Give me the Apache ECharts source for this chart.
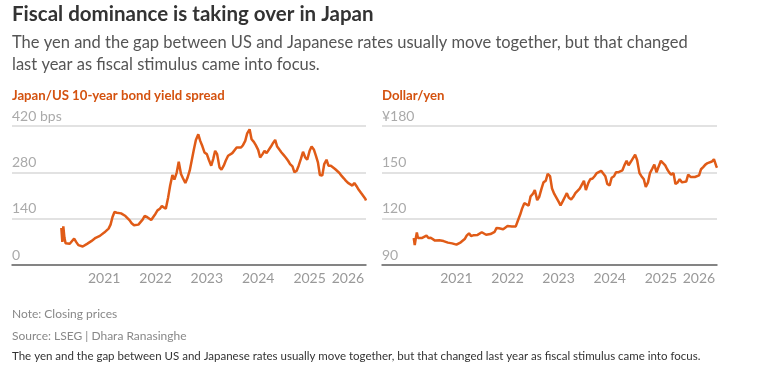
<!DOCTYPE html>
<html>
<head>
<meta charset="utf-8">
<script src="https://cdn.jsdelivr.net/npm/echarts@6/dist/echarts.min.js"></script>
<style>
html,body{margin:0;padding:0;background:#fff;}
#chart{width:761px;height:378px;}
</style>
</head>
<body>
<div id="chart"></div>
<script>
var dates = [
"2020-03-02","2020-03-09","2020-03-16","2020-03-24","2020-04-01","2020-04-15",
"2020-05-01","2020-05-15","2020-06-01","2020-06-15","2020-07-01","2020-07-15","2020-08-01","2020-08-15","2020-09-01","2020-09-15","2020-10-01","2020-10-15","2020-11-01","2020-11-15","2020-12-01","2020-12-15",
"2021-01-01","2021-01-15","2021-02-01","2021-02-15","2021-03-01","2021-03-15","2021-04-01","2021-04-15","2021-05-01","2021-05-15","2021-06-01","2021-06-15","2021-07-01","2021-07-15","2021-08-01","2021-08-15","2021-09-01","2021-09-15","2021-10-01","2021-10-15","2021-11-01","2021-11-15","2021-12-01","2021-12-15",
"2022-01-01","2022-01-15","2022-02-01","2022-02-15","2022-03-01","2022-03-15","2022-04-01","2022-04-15","2022-05-01","2022-05-15","2022-06-01","2022-06-15","2022-07-01","2022-07-15","2022-08-01","2022-08-15","2022-09-01","2022-09-15","2022-10-01","2022-10-15","2022-11-01","2022-11-15","2022-12-01","2022-12-15",
"2023-01-01","2023-01-15","2023-02-01","2023-02-15","2023-03-01","2023-03-15","2023-04-01","2023-04-15","2023-05-01","2023-05-15","2023-06-01","2023-06-15","2023-07-01","2023-07-15","2023-08-01","2023-08-15","2023-09-01","2023-09-15","2023-10-01","2023-10-15","2023-11-01","2023-11-15","2023-12-01","2023-12-15",
"2024-01-01","2024-01-15","2024-02-01","2024-02-15","2024-03-01","2024-03-15","2024-04-01","2024-04-15","2024-05-01","2024-05-15","2024-06-01","2024-06-15","2024-07-01","2024-07-15","2024-08-01","2024-08-15","2024-09-01","2024-09-15","2024-10-01","2024-10-15","2024-11-01","2024-11-15","2024-12-01","2024-12-15",
"2025-01-01","2025-01-15","2025-02-01","2025-02-15","2025-03-01","2025-03-15","2025-04-01","2025-04-15","2025-05-01","2025-05-15","2025-06-01","2025-06-15","2025-07-01","2025-07-15","2025-08-01","2025-08-15","2025-09-01","2025-09-15","2025-10-01","2025-10-15","2025-11-01","2025-11-15","2025-12-01","2025-12-15",
"2026-01-01","2026-01-15","2026-02-01","2026-02-06"
];

// Japan/US 10-year bond yield spread, bps
var spread = [
112,70,117,82,66,70,
64,66,80,70,60,55,56,62,64,66,72,76,82,84,88,90,
98,104,110,122,145,160,158,152,156,152,148,143,135,126,120,123,122,128,137,148,145,142,136,140,
155,165,170,178,172,170,205,240,272,258,280,312,275,262,248,262,285,315,350,378,395,375,358,340,
335,318,300,320,345,335,295,288,300,315,330,335,338,340,355,358,355,362,375,398,410,380,372,362,
348,325,335,345,338,342,358,368,378,358,348,340,332,325,315,305,298,280,285,300,322,342,325,318,
345,358,348,330,310,272,270,305,318,300,300,295,290,285,278,270,262,255,248,242,240,248,238,228,
218,212,200,195
];

// Dollar/yen, yen per dollar
var usdjpy = [
107.5,102.9,107,111,107.5,108,
107.5,107.2,109,107.5,107.7,107,105.8,106.5,106,105.5,105.5,105.3,104.5,104.5,104,103.5,
103.2,103.8,104.7,105.5,106.8,109,110.5,108.8,109.2,109.4,109.5,110,111.2,110.2,109.6,109.6,110,109.5,111.5,114,113.8,114.2,113.2,113.8,
115.2,114.3,115,115.5,115,118.5,122.5,126.5,130,129,128.5,134.5,136,138.5,132,134,139.5,143.5,144.5,149,147.5,139.5,136,135.5,
131,128.5,131.5,134,136.5,133.5,132.5,134,136.5,136.5,139.5,140.5,144.5,138.5,143,145.5,146,147.5,149.5,149.5,151,151.5,147.5,142.5,
141.5,146.5,147.5,150,150,149,151.3,154.5,157.5,154.5,157,157.5,161.5,158,149.5,147.5,145.5,140.5,143.5,149.5,152.5,155,150,153.5,
157.5,157,154.5,152,150,148.5,149.5,142.5,143.5,145.5,143.5,144,144,148.5,147,147.2,147,147.5,148,152,153.5,155,156,155.5,
157,158.5,154,153
];

var yearTicks = ["2021-01-01","2022-01-01","2023-01-01","2024-01-01","2025-01-01","2026-01-01"];
var spreadTicks = [0,140,280,420];
var yenTicks = [90,120,150,180];

var FONT = 'Lato';
var ORANGE_LINE = '#e05b17';
var ORANGE_TEXT = '#d4520f';

function ts(s){ return Date.parse(s + 'T00:00:00Z'); }
function pairs(vals){ return dates.map(function(d,i){ return [ts(d), vals[i]]; }); }

function xAxisCfg(gi, minDate, maxDate){
  return {
    type:'value', gridIndex:gi, min:ts(minDate), max:ts(maxDate),
    axisLine:{show:true, lineStyle:{color:'#666', width:1.5}},
    axisTick:{show:false},
    splitLine:{show:false},
    axisLabel:{
      customValues: yearTicks.map(ts),
      margin:6, color:'#999', fontSize:14, fontFamily:FONT, hideOverlap:false,
      formatter:function(v){
        var y = new Date(v).getUTCFullYear();
        return y === 2026 ? '{s|' + y + '}' : String(y);
      },
      rich:{ s:{ color:'#999', fontSize:14, fontFamily:FONT, padding:[0,26,0,0] } }
    }
  };
}

function yAxisCfg(gi, ticks, topFmt){
  return {
    type:'value', gridIndex:gi, min:ticks[0], max:ticks[ticks.length-1], interval:ticks[1]-ticks[0],
    axisLine:{show:false}, axisTick:{show:false},
    splitLine:{show:true, lineStyle:{color:'#d9d9d9', width:1.5}},
    axisLabel:{
      inside:true, margin:0, align:'left', verticalAlign:'bottom', padding:[0,0,3,0],
      color:'#aaa', fontSize:14, fontFamily:FONT,
      formatter:function(v){ return v === ticks[ticks.length-1] ? topFmt(v) : String(v); }
    }
  };
}

var chart = echarts.init(document.getElementById('chart'), null, {renderer:'canvas'});
chart.setOption({
  animation:false,
  backgroundColor:'#fff',
  title:[
    {text:'Fiscal dominance is taking over in Japan', left:12, top:4, padding:0,
     textStyle:{fontFamily:FONT, fontSize:20.5, fontWeight:'bold', color:'#333'}},
    {text:'The yen and the gap between US and Japanese rates usually move together, but that changed\nlast year as fiscal stimulus came into focus.',
     left:12, top:32, padding:0, textStyle:{fontFamily:FONT, fontSize:16.5, fontWeight:'normal', color:'#555', lineHeight:22}},
    {text:'Japan/US 10-year bond yield spread', left:12, top:89, padding:0,
     textStyle:{fontFamily:FONT, fontSize:13.2, fontWeight:'bold', color:ORANGE_TEXT}},
    {text:'Dollar/yen', left:382, top:89, padding:0,
     textStyle:{fontFamily:FONT, fontSize:13.2, fontWeight:'bold', color:ORANGE_TEXT}},
    {text:'Note: Closing prices', left:12, top:308, padding:0,
     textStyle:{fontFamily:FONT, fontSize:12, fontWeight:'normal', color:'#888'}},
    {text:'Source: LSEG | Dhara Ranasinghe', left:12, top:330, padding:0,
     textStyle:{fontFamily:FONT, fontSize:12, fontWeight:'normal', color:'#888'}},
    {text:'The yen and the gap between US and Japanese rates usually move together, but that changed last year as fiscal stimulus came into focus.',
     left:12, top:350, padding:0, textStyle:{fontFamily:FONT, fontSize:11.5, fontWeight:'normal', color:'#333'}}
  ],
  grid:[
    {left:12, right:395, top:126, bottom:113},
    {left:382, right:44, top:126, bottom:113}
  ],
  xAxis:[
    xAxisCfg(0, '2019-03-17', '2026-02-06'),
    xAxisCfg(1, '2019-07-19', '2026-02-06')
  ],
  yAxis:[
    yAxisCfg(0, spreadTicks, function(v){ return v + ' bps'; }),
    yAxisCfg(1, yenTicks, function(v){ return '\u00a5' + v; })
  ],
  series:[
    {type:'line', xAxisIndex:0, yAxisIndex:0, data:pairs(spread), showSymbol:false,
     lineStyle:{color:ORANGE_LINE, width:2.5}, z:5},
    {type:'line', xAxisIndex:1, yAxisIndex:1, data:pairs(usdjpy), showSymbol:false,
     lineStyle:{color:ORANGE_LINE, width:2.5}, z:5}
  ]
});
</script>
</body>
</html>
